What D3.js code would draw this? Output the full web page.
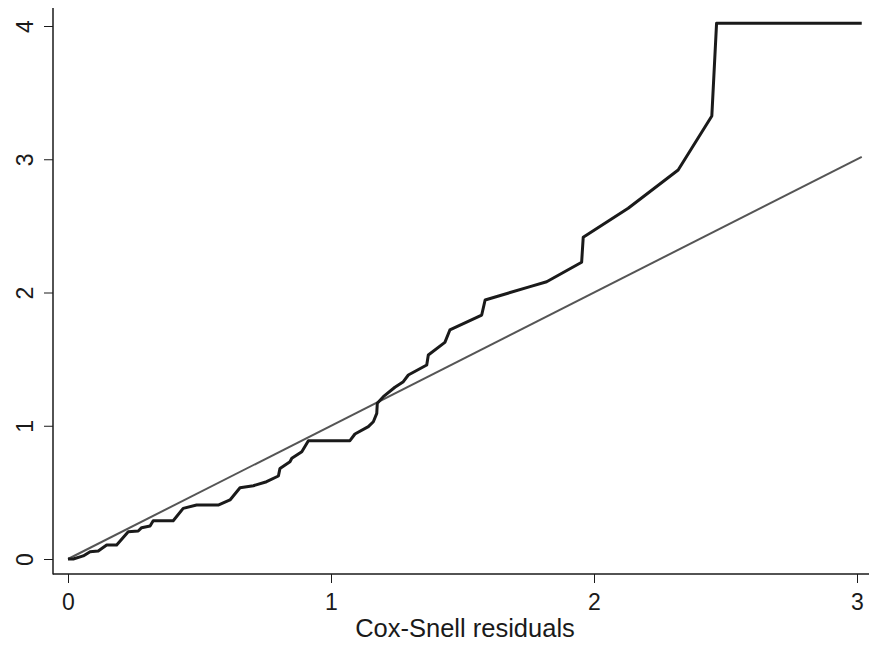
<!DOCTYPE html>
<html>
<head>
<meta charset="utf-8">
<script src="https://cdn.jsdelivr.net/npm/d3@7"></script>
<style>
  body { margin: 0; background: #fff; }
  text { font-family: "Liberation Sans", Arial, sans-serif; fill: #1a1a1a; }
</style>
</head>
<body>
<div id="chart"></div>
<script>
// Cox-Snell residuals vs Nelson-Aalen cumulative hazard
const csResid = [0, 0.02, 0.058, 0.084, 0.115, 0.147, 0.185, 0.229, 0.267, 0.28, 0.312, 0.324, 0.40,
  0.438, 0.489, 0.571, 0.616, 0.654, 0.705, 0.755, 0.80, 0.806, 0.844, 0.851, 0.889, 0.914, 1.072,
  1.091, 1.142, 1.161, 1.174, 1.176, 1.199, 1.243, 1.275, 1.294, 1.364, 1.37, 1.433, 1.452, 1.573,
  1.586, 1.757, 1.82, 1.953, 1.959, 2.13, 2.32, 2.448, 2.466, 3.018];
const cumHaz = [0, 0.0, 0.023, 0.055, 0.06, 0.105, 0.105, 0.205, 0.21, 0.235, 0.248, 0.287, 0.287,
  0.38, 0.405, 0.405, 0.443, 0.535, 0.55, 0.58, 0.623, 0.68, 0.73, 0.756, 0.805, 0.888, 0.888,
  0.938, 0.993, 1.03, 1.093, 1.168, 1.218, 1.289, 1.331, 1.381, 1.456, 1.531, 1.626, 1.719, 1.831,
  1.944, 2.044, 2.081, 2.227, 2.414, 2.632, 2.919, 3.325, 4.02, 4.02];
const xTicks = [0, 1, 2, 3];
const yTicks = [0, 1, 2, 3, 4];
const xTitle = "Cox-Snell residuals";

const width = 869, height = 645;
const svg = d3.select("#chart").append("svg")
  .attr("width", width).attr("height", height);

const xScale = d3.scaleLinear().domain([0, 3]).range([68, 857]);
const yScale = d3.scaleLinear().domain([0, 4]).range([559, 26]);

const axisX = 53, axisY = 574;

// axis lines
svg.append("line")
  .attr("x1", axisX).attr("x2", axisX).attr("y1", 8).attr("y2", axisY + 0.5)
  .attr("stroke", "#1a1a1a").attr("stroke-width", 1.5);
svg.append("line")
  .attr("x1", axisX).attr("x2", width).attr("y1", axisY).attr("y2", axisY)
  .attr("stroke", "#1a1a1a").attr("stroke-width", 1.5);

// x axis ticks
const gx = svg.append("g")
  .attr("transform", `translate(0,${axisY})`)
  .call(d3.axisBottom(xScale).tickValues(xTicks).tickSize(9).tickPadding(11).tickFormat(d3.format("d")));
gx.select(".domain").remove();
gx.selectAll("line").attr("stroke", "#1a1a1a").attr("stroke-width", 1);
gx.selectAll("text").style("font-size", "23px").attr("fill", "#1a1a1a");

// y axis ticks, rotated labels
const gy = svg.append("g")
  .attr("transform", `translate(${axisX},0)`)
  .call(d3.axisLeft(yScale).tickValues(yTicks).tickSize(9).tickFormat(d3.format("d")));
gy.select(".domain").remove();
gy.selectAll("line").attr("stroke", "#1a1a1a").attr("stroke-width", 1);
gy.selectAll("text")
  .style("font-size", "23px").attr("fill", "#1a1a1a")
  .attr("x", 0).attr("dy", null)
  .attr("text-anchor", "middle")
  .attr("transform", "translate(-20,0) rotate(-90)");

// axis title
svg.append("text")
  .attr("x", 465)
  .attr("y", 637)
  .attr("text-anchor", "middle")
  .style("font-size", "25.5px")
  .text(xTitle);

// reference line y = x
const refMax = d3.max(csResid);
svg.append("path")
  .datum([[0, 0], [refMax, refMax]])
  .attr("d", d3.line().x(d => xScale(d[0])).y(d => yScale(d[1])))
  .attr("stroke", "#555").attr("stroke-width", 2).attr("fill", "none");

// cumulative hazard
const pts = csResid.map((v, i) => [v, cumHaz[i]]);
svg.append("path")
  .datum(pts)
  .attr("d", d3.line().x(d => xScale(d[0])).y(d => yScale(d[1])))
  .attr("stroke", "#1a1a1a").attr("stroke-width", 3)
  .attr("stroke-linejoin", "round").attr("fill", "none");
</script>
</body>
</html>
